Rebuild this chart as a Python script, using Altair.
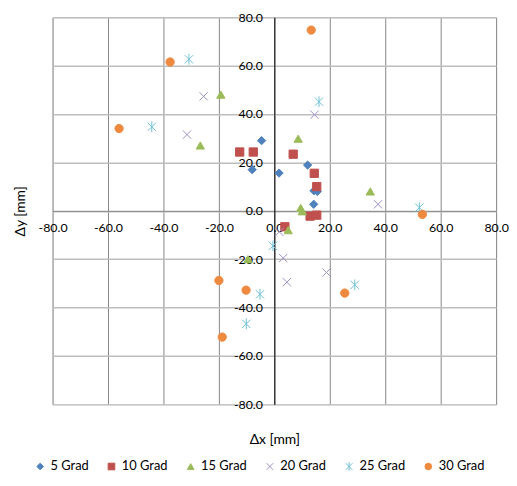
import altair as alt
import pandas as pd

series = ["5 Grad", "10 Grad", "15 Grad", "20 Grad", "25 Grad", "30 Grad"]

x_5 = [-4.6, -8.0, 1.7, 12.0, 14.3, 15.5, 14.2]
y_5 = [29.0, 17.0, 15.6, 18.9, 8.3, 8.0, 2.7]

x_10 = [-12.5, -7.6, 6.8, 14.4, 15.3, 12.9, 15.3, 3.8]
y_10 = [24.3, 24.3, 23.4, 15.5, 10.0, -2.2, -1.8, -6.6]

x_15 = [-19.3, -26.7, 8.6, 34.6, 9.5, 10.1, 5.0, -9.5]
y_15 = [48.0, 27.0, 29.8, 8.0, 1.2, -0.2, -8.0, -20.0]

x_20 = [-25.5, -31.5, 14.5, 37.4, 1.8, 3.2, 4.5, 18.8]
y_20 = [47.3, 31.5, 39.7, 2.7, -8.7, -19.5, -29.5, -25.5]

x_25 = [-30.8, -44.2, 16.1, 52.3, -0.5, -5.2, -10.1, 29.0]
y_25 = [62.6, 34.7, 45.1, 1.3, -14.5, -34.5, -46.7, -30.6]

x_30 = [-37.6, -56.0, 13.3, 53.4, -20.0, -10.2, -18.8, 25.4]
y_30 = [61.5, 34.0, 74.7, -1.5, -28.8, -32.8, -52.2, -34.0]

tick_values = [-80, -60, -40, -20, 0, 20, 40, 60, 80]

colors = ["#4F81BD", "#C0504D", "#9BBB59", "#9F8FC6", "#6FC0D6", "#EE8A3F"]
shapes = [
    "diamond",
    "square",
    "triangle-up",
    "M-1,-1L1,1M-1,1L1,-1",
    "M-1,-1L1,1M-1,1L1,-1M0,-1.3L0,1.3",
    "circle",
]

rows = []
for name, xs, ys in zip(series, [x_5, x_10, x_15, x_20, x_25, x_30],
                        [y_5, y_10, y_15, y_20, y_25, y_30]):
    for a, b in zip(xs, ys):
        rows.append({"series": name, "dx": a, "dy": b})
df = pd.DataFrame(rows)

W, H = 448, 391
FONT = "Lato"
lab = "replace(format(datum.value, '.1f'), '\u2212', '-')"

leg = alt.Legend(title=None, orient="none", direction="horizontal",
                 legendX=-19, legendY=447,
                 labelFont=FONT, labelFontSize=13, labelColor="#000000",
                 symbolSize=45, columnPadding=16, labelOffset=4,
                 symbolStrokeWidth=1)

chart = alt.Chart(df).mark_point(filled=True, strokeWidth=1, opacity=1, size=70).encode(
    x=alt.X("dx:Q",
            scale=alt.Scale(domain=[-80, 80], nice=False, zero=False),
            axis=alt.Axis(values=tick_values, offset=-H / 2, labelExpr=lab,
                          title="Δx [mm]", titleFont=FONT, titleFontSize=14,
                          titleFontWeight="normal", titleColor="#000000",
                          titleX=W / 2, titleY=231, titleBaseline="middle",
                          grid=True, gridColor="#878787", gridWidth=1,
                          domainColor="#878787", ticks=False, labelPadding=11,
                          labelFont=FONT, labelFontSize=12.5, labelColor="#000000",
                          labelFlush=False, labelOverlap=False, labelBound=False)),
    y=alt.Y("dy:Q",
            scale=alt.Scale(domain=[-80, 80], nice=False, zero=False),
            axis=alt.Axis(values=tick_values, offset=-W / 2, labelExpr=lab,
                          title="Δy [mm]", titleFont=FONT, titleFontSize=14,
                          titleFontWeight="normal", titleColor="#000000",
                          titleX=-256, titleY=H / 2, titleBaseline="middle",
                          titleAlign="center",
                          grid=True, gridColor="#bdbdbd", gridWidth=1.5,
                          domainColor="#000000", ticks=False, labelPadding=12,
                          labelFont=FONT, labelFontSize=12.5, labelColor="#000000",
                          labelFlush=False, labelOverlap=False, labelBound=False)),
    color=alt.Color("series:N", scale=alt.Scale(domain=series, range=colors), legend=leg),
    stroke=alt.Stroke("series:N", scale=alt.Scale(domain=series, range=colors), legend=leg),
    shape=alt.Shape("series:N", scale=alt.Scale(domain=series, range=shapes), legend=leg),
).properties(
    width=W, height=H,
    padding={"left": 6, "top": 1, "right": 0, "bottom": 0},
).configure_view(stroke=None).configure(background="#ffffff")

chart.save("out.html", embed_options={"renderer": "svg", "actions": False})
